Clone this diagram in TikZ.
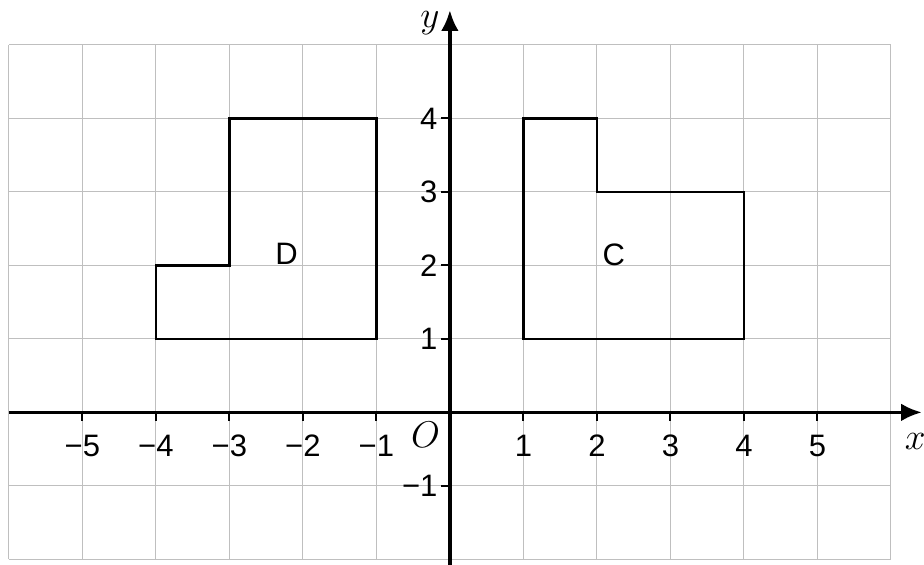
\documentclass[tikz,border=0pt]{standalone}
\usepackage{fontspec}
\newfontfamily\ticksfont{Liberation Sans}
\usepackage{tikz}
\usetikzlibrary{arrows.meta,positioning}

\begin{document}
\begin{tikzpicture}[
    x=1cm,
    y=1cm,
    gridline/.style={draw=gray!50, line width=0.4pt},
    axis/.style={line width=1.3pt, -{Latex[length=2.8mm,width=2.4mm]}},
    shapeline/.style={line width=0.9pt, line join=miter},
    tickmark/.style={line width=0.8pt},
    ticklabel/.style={font=\fontsize{12}{14}\ticksfont, inner sep=1pt},
    shapelabel/.style={font=\fontsize{12}{14}\ticksfont}
]
\useasboundingbox (-6.12,-2.07) rectangle (6.45,5.61);

% Grid
\foreach \x in {-6,...,6} {
  \draw[gridline] (\x,-2) -- (\x,5);
}
\foreach \y in {-2,...,5} {
  \draw[gridline] (-6,\y) -- (6,\y);
}

% Axes
\coordinate (xstart) at (-6,0);
\coordinate (xend) at (6.42,0);
\coordinate (ystart) at (0,-2.07);
\coordinate (yend) at (0,5.47);
\draw[axis] (xstart) -- (xend);
\draw[axis] (ystart) -- (yend);
\node[font=\Large, inner sep=0pt] (xlab) at (6.33,-0.4) {$x$};
\node[font=\Large] (ylab) at (-0.27,5.3) {$y$};
\node[font=\Large] (origin) at (-0.33,-0.3) {$O$};

% Ticks
\foreach \x in {-5,...,-1} {
  \draw[tickmark] (\x,0) -- (\x,-0.12) node[ticklabel, below=4pt] (xt\x) {−\the\numexpr-\x\relax};
}
\foreach \x in {1,...,5} {
  \draw[tickmark] (\x,0) -- (\x,-0.12) node[ticklabel, below=4pt] (xt\x) {\x};
}
\foreach \y in {1,...,4} {
  \draw[tickmark] (0,\y) -- (-0.12,\y) node[ticklabel, left=0pt] (yt\y) {\y};
}
\draw[tickmark] (0,-1) -- (-0.12,-1) node[ticklabel, left=0pt] (ytm1) {−1};

% Shapes D and C
\draw[shapeline] (-4,1) -- (-1,1) -- (-1,4) -- (-3,4) -- (-3,2) -- (-4,2) -- cycle;
\node[shapelabel] (labD) at (-2.22,2.16) {D};

\draw[shapeline] (1,1) -- (4,1) -- (4,3) -- (2,3) -- (2,4) -- (1,4) -- cycle;
\node[shapelabel] (labC) at (2.23,2.14) {C};
\end{tikzpicture}
\end{document}
